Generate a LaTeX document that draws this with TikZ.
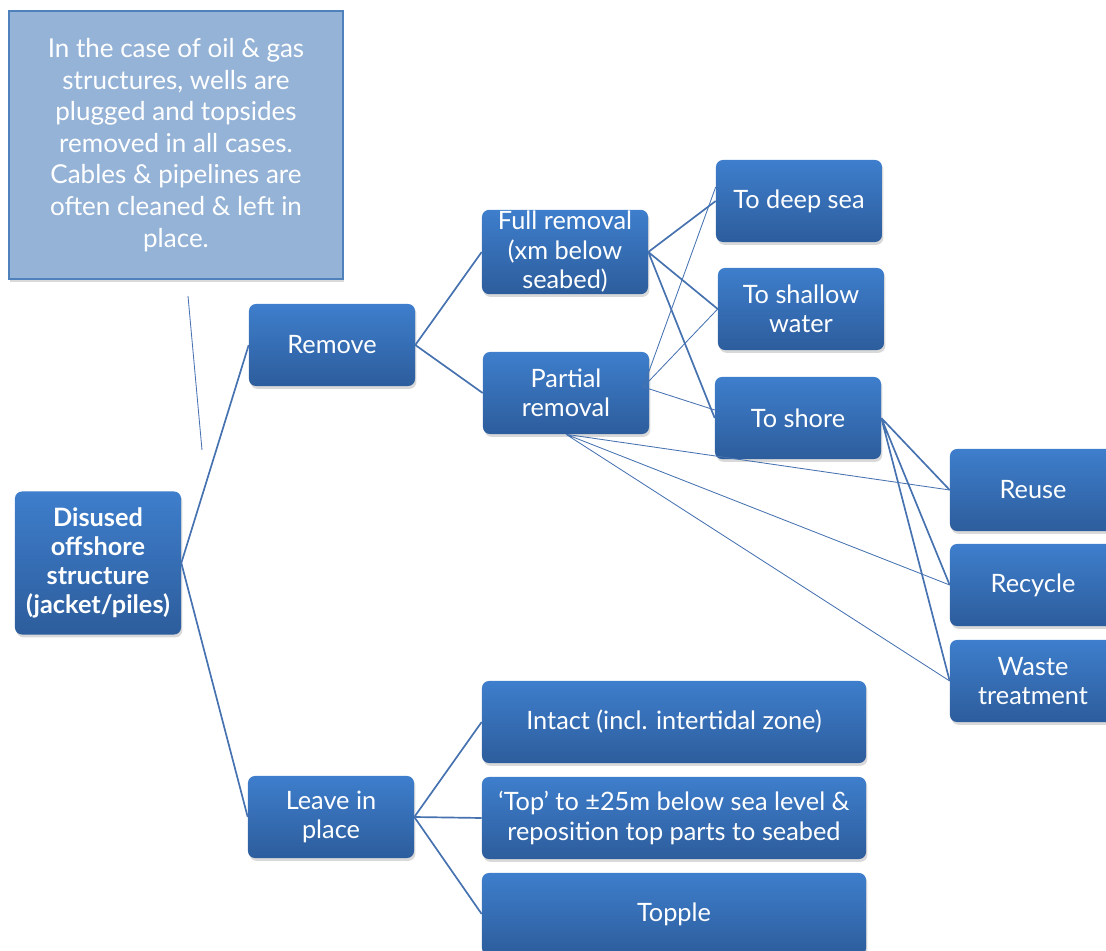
\documentclass[tikz,border=0pt]{standalone}
\usepackage{fontspec}
\setmainfont{Lato}
\usetikzlibrary{shadows}

\definecolor{boxtop}{RGB}{62,126,204}
\definecolor{boxbot}{RGB}{45,93,156}
\definecolor{linkblue}{RGB}{70,114,176}
\definecolor{notefill}{RGB}{149,179,215}
\definecolor{noteline}{RGB}{79,129,189}

\begin{document}
\begin{tikzpicture}[x=0.025cm, y=-0.025cm]
        \tikzstyle{box}=[rounded corners=5pt, top color=boxtop, bottom color=boxbot,
                         text=white, align=center, inner sep=1pt,
                         minimum width=4.15cm, minimum height=2.05cm,
                         font=\fontsize{18}{21}\selectfont,
                         drop shadow={shadow xshift=1pt, shadow yshift=-2pt, opacity=0.3}]
        \tikzstyle{widebox}=[box, minimum width=9.6cm]
        \tikzstyle{thick link}=[draw=linkblue, line width=1.2pt]
        \tikzstyle{thin link}=[draw=linkblue, line width=0.6pt]

        \useasboundingbox (0,0) rectangle (1106,951);
        \clip (0,0) rectangle (1106,951);

        % note
        \node (note) [draw=noteline, line width=1pt, fill=notefill, text=white,
                      align=center, minimum width=8.35cm, minimum height=6.7cm,
                      font=\fontsize{18.5}{22.5}\selectfont,
                      drop shadow={shadow xshift=1pt, shadow yshift=-2pt, opacity=0.3}]
              at (176,145) {In the case of oil \& gas\\ structures, wells are\\ plugged and topsides\\
                            removed in all cases.\\ Cables \& pipelines are\\ often cleaned \& left in\\ place.};
        \coordinate (ptrtop) at (188,296);
        \coordinate (ptrend) at (202,450);

        % tree
        \node (root)    [box, minimum height=3.575cm, font=\bfseries\fontsize{18}{20.5}\selectfont]
                        at (98,563) {Disused\\ offshore\\ structure\\ (jacket/piles)};
        \node (remove)  [box] at (332,345) {Remove};
        \node (leave)   [box] at (331,817) {Leave in\\ place};
        \node (full)    [box] at (565,252) {Full removal\\ (xm below\\ seabed)};
        \node (partial) [box] at (566,393) {Partial\\ removal};
        \node (deep)    [box] at (799,201) {To deep sea};
        \node (shallow) [box] at (801,309) {To shallow\\ water};
        \node (shore)   [box] at (798,418) {To shore};
        \node (reuse)   [box] at (1033,490) {Reuse};
        \node (recycle) [box] at (1033,585) {Recycle};
        \node (waste)   [box] at (1033,681) {Waste\\ treatment};
        \node (intact)  [widebox] at (674,722) {Intact (incl. intertidal zone)};
        \node (topcut)  [widebox] at (674,818) {‘Top’ to ±25m below sea level \&\\ reposition top parts to seabed};
        \node (topple)  [widebox] at (674,914) {Topple};

        \path[thin link] (ptrtop) -- (ptrend);

        \path[thick link] (root.east) -- (remove.west)
                          (root.east) -- (leave.west)
                          (remove.east) -- (full.west)
                          (remove.east) -- (partial.west)
                          (full.east) -- (deep.west)
                          (full.east) -- (shallow.west)
                          (full.east) -- (shore.west)
                          (shore.east) -- (reuse.west)
                          (shore.east) -- (recycle.west)
                          (shore.east) -- (waste.west)
                          (leave.east) -- (intact.west)
                          (leave.east) -- (topcut.west)
                          (leave.east) -- (topple.west);

        \path[thin link]  ([shift={(-6,-6)}]partial.east) -- ([yshift=0.35cm]deep.west)
                          ([shift={(-6,-6)}]partial.east) -- (shallow.west)
                          ([shift={(-6,-6)}]partial.east) -- ([yshift=0.2cm]shore.west)
                          (partial.south) -- (reuse.west)
                          (partial.south) -- (recycle.west)
                          (partial.south) -- (waste.west);
    \end{tikzpicture}
\end{document}
